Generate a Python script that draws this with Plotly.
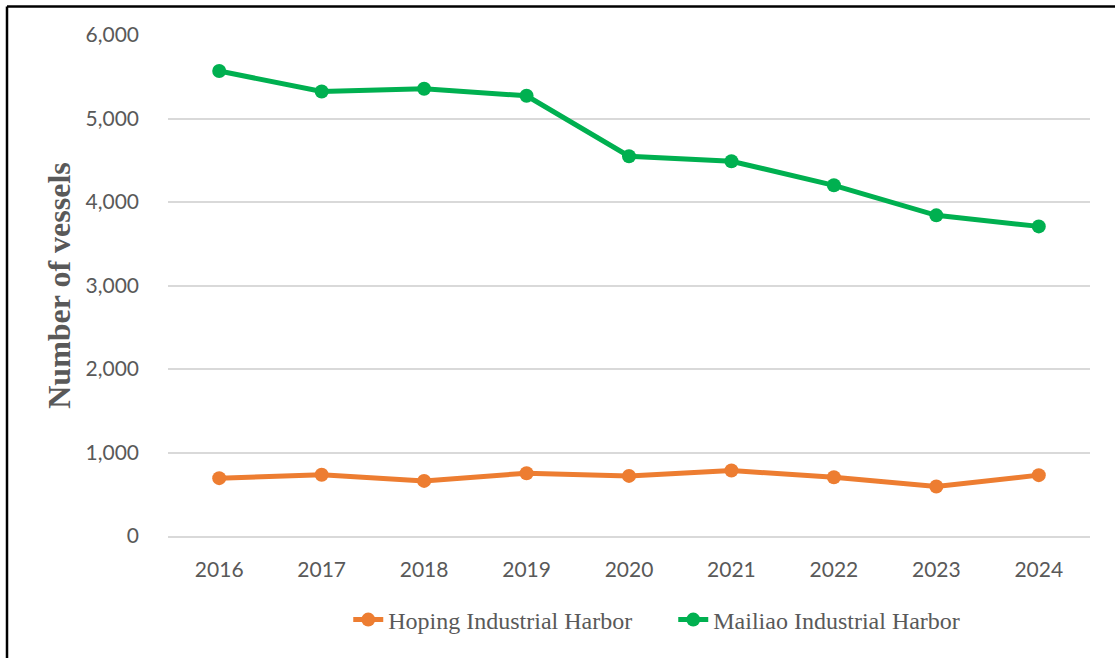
import plotly.graph_objects as go

years = ["2016", "2017", "2018", "2019", "2020", "2021", "2022", "2023", "2024"]
hoping = [693, 733, 660, 752, 720, 784, 704, 592, 729]
mailiao = [5568, 5324, 5356, 5272, 4548, 4488, 4200, 3840, 3708]
y_ticks = [0, 1000, 2000, 3000, 4000, 5000, 6000]
y_tick_labels = ["0", "1,000", "2,000", "3,000", "4,000", "5,000", "6,000"]

W, H = 1115, 658
L, R, T, B = 168, 25, 35, 122
pw, ph = W - L - R, H - T - B

def px(x):
    return (x - L) / pw

def py(y):
    return (H - B - y) / ph

fig = go.Figure()
fig.add_trace(go.Scatter(
    x=years, y=hoping, name="Hoping Industrial Harbor", mode="lines+markers",
    line=dict(color="#ED7D31", width=5), marker=dict(size=14, color="#ED7D31"),
))
fig.add_trace(go.Scatter(
    x=years, y=mailiao, name="Mailiao Industrial Harbor", mode="lines+markers",
    line=dict(color="#00B050", width=5), marker=dict(size=14, color="#00B050"),
))

fig.update_layout(
    width=W, height=H,
    margin=dict(l=L, r=R, t=T, b=B, pad=0),
    paper_bgcolor="white", plot_bgcolor="white",
    showlegend=True,
    legend=dict(
        orientation="h", x=0.548, xanchor="center", y=py(620), yanchor="middle",
        font=dict(family="Liberation Serif", size=24, color="#595959"),
        entrywidth=280, entrywidthmode="pixels",
    ),
    xaxis=dict(
        type="category", range=[-0.5, 8.5], showgrid=False, showline=True,
        linecolor="#D9D9D9", linewidth=1.5, ticks="", ticklabelstandoff=14,
        tickfont=dict(family="Lato", size=21, color="#595959"),
    ),
    yaxis=dict(
        range=[0, 6000], tickvals=y_ticks, ticktext=y_tick_labels,
        showgrid=True, gridcolor="#D9D9D9", gridwidth=1.5, zeroline=False,
        showline=False, ticks="", ticklabelstandoff=28,
        tickfont=dict(family="Lato", size=21, color="#595959"),
        title=dict(text="<b>Number of vessels</b>", standoff=5,
                   font=dict(family="Liberation Serif", size=32, color="#595959")),
    ),
    shapes=[
        dict(type="line", xref="paper", yref="paper", x0=px(7), x1=px(1120),
             y0=py(6.5), y1=py(6.5), line=dict(color="black", width=2.5)),
        dict(type="line", xref="paper", yref="paper", x0=px(7), x1=px(7),
             y0=py(6.5), y1=py(665), line=dict(color="black", width=2.5)),
    ],
)

fig.write_html("out.html", config={"displayModeBar": False},
               post_script="document.body.style.margin='0';document.body.style.overflow='hidden';")
